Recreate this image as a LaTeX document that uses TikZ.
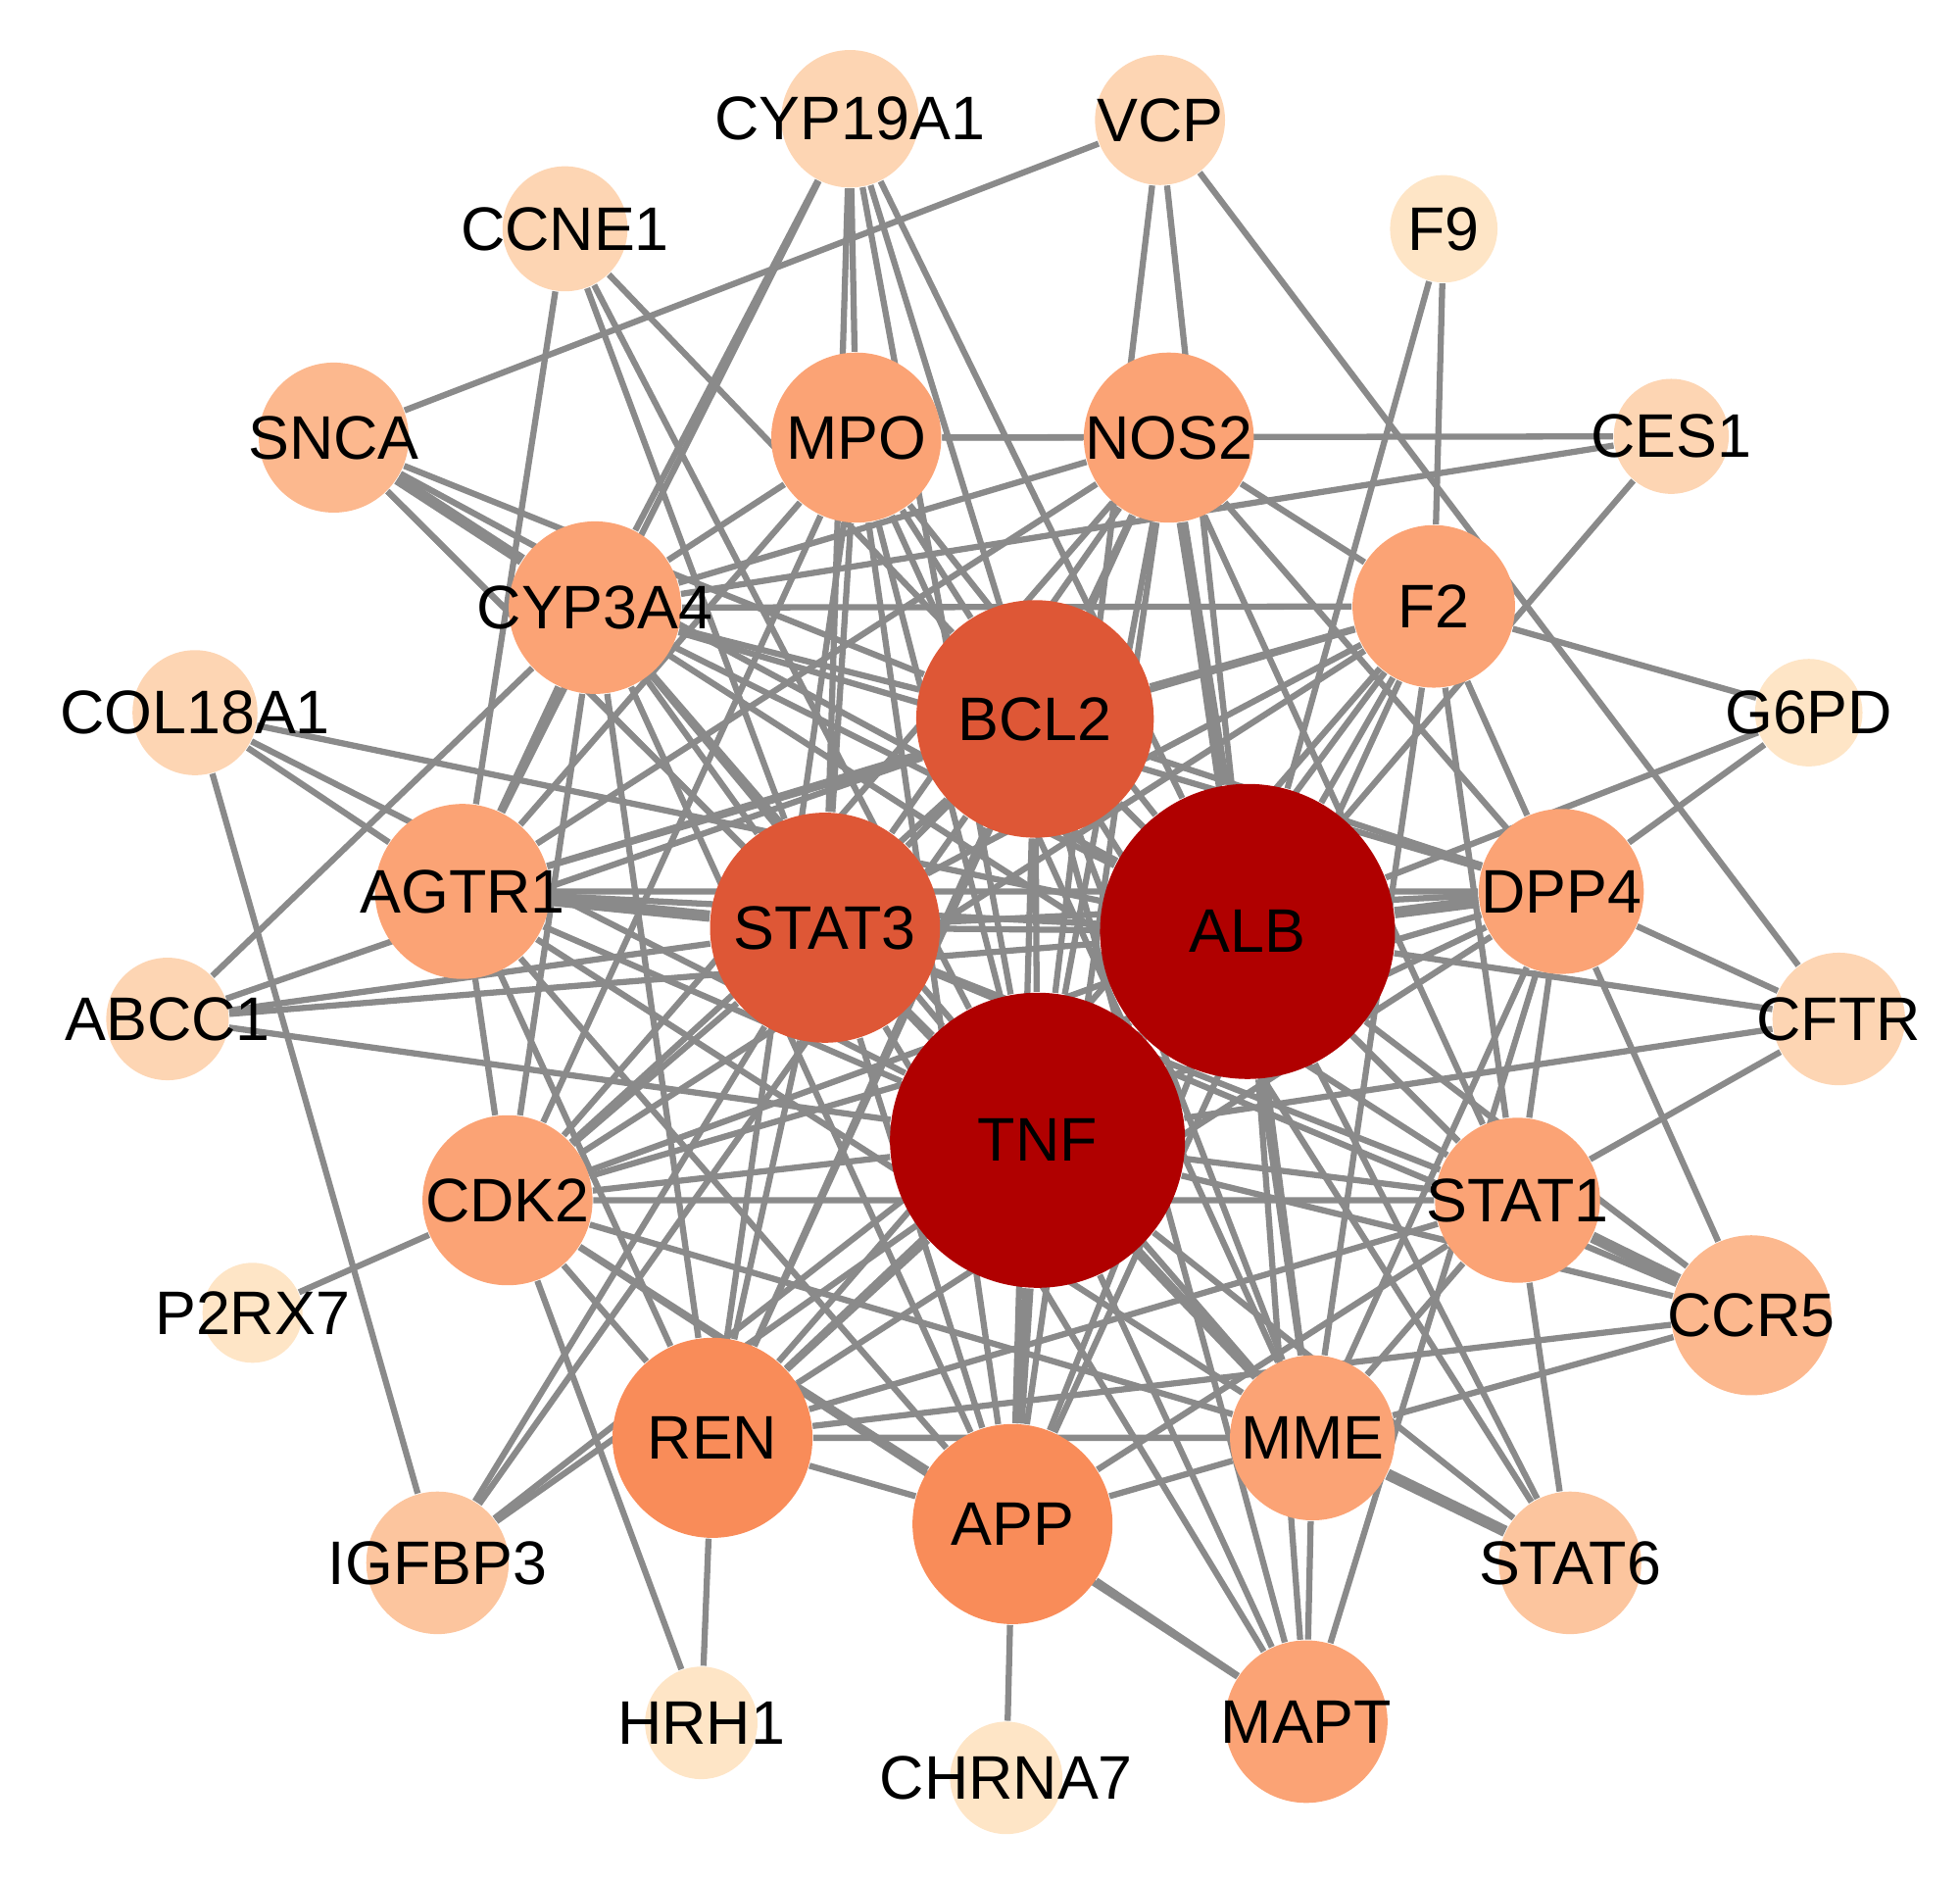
\documentclass[tikz,border=0pt]{standalone}
\usepackage{fontspec}
\setmainfont{Liberation Sans}
\usetikzlibrary{backgrounds}

\definecolor{hubred}{HTML}{B00000}
\definecolor{bigorange}{HTML}{DE5736}
\definecolor{midorange}{HTML}{F98C59}
\definecolor{peach}{HTML}{FBA375}
\definecolor{lightpeach}{HTML}{FCB88E}
\definecolor{paleorange}{HTML}{FCC59E}
\definecolor{cream}{HTML}{FDD5B3}
\definecolor{palecream}{HTML}{FEE5C6}
\definecolor{linkgray}{HTML}{8A8A8A}

\tikzset{
  gene/.style={circle, draw=none, inner sep=0pt, minimum size=#1, font=\fontsize{14}{16}\selectfont},
  link/.style={draw=linkgray, line width=1.4pt},
  biglink/.style={draw=linkgray, line width=2.6pt},
}

\begin{document}
\begin{tikzpicture}
    \useasboundingbox (0,0) rectangle (15.68,-15.04);

    % Draw the hubs
    \node[gene=2.36cm, fill=hubred] (TNF) at (8.30,-9.12) {\makebox[0pt]{TNF}};
    \node[gene=2.36cm, fill=hubred] (ALB) at (9.98,-7.45) {\makebox[0pt]{ALB}};
    \node[gene=1.90cm, fill=bigorange] (BCL2) at (8.28,-5.75) {\makebox[0pt]{BCL2}};
    \node[gene=1.84cm, fill=bigorange] (STAT3) at (6.60,-7.42) {\makebox[0pt]{STAT3}};
    \node[gene=1.60cm, fill=midorange] (REN) at (5.70,-11.50) {\makebox[0pt]{REN}};
    \node[gene=1.60cm, fill=midorange] (APP) at (8.10,-12.19) {\makebox[0pt]{APP}};

    % Draw the middle ring
    \node[gene=1.36cm, fill=peach] (MPO) at (6.85,-3.50) {\makebox[0pt]{MPO}};
    \node[gene=1.36cm, fill=peach] (NOS2) at (9.35,-3.50) {\makebox[0pt]{NOS2}};
    \node[gene=1.38cm, fill=peach] (CYP3A4) at (4.76,-4.86) {\makebox[0pt]{CYP3A4}};
    \node[gene=1.30cm, fill=peach] (F2) at (11.47,-4.85) {\makebox[0pt]{F2}};
    \node[gene=1.40cm, fill=peach] (AGTR1) at (3.70,-7.13) {\makebox[0pt]{AGTR1}};
    \node[gene=1.32cm, fill=peach] (DPP4) at (12.49,-7.13) {\makebox[0pt]{DPP4}};
    \node[gene=1.36cm, fill=peach] (CDK2) at (4.06,-9.60) {\makebox[0pt]{CDK2}};
    \node[gene=1.32cm, fill=peach] (STAT1) at (12.14,-9.60) {\makebox[0pt]{STAT1}};
    \node[gene=1.32cm, fill=peach] (MME) at (10.50,-11.50) {\makebox[0pt]{MME}};
    \node[gene=1.30cm, fill=peach] (MAPT) at (10.45,-13.77) {\makebox[0pt]{MAPT}};
    \node[gene=1.28cm, fill=lightpeach] (CCR5) at (14.01,-10.52) {\makebox[0pt]{CCR5}};
    \node[gene=1.20cm, fill=lightpeach] (SNCA) at (2.67,-3.50) {\makebox[0pt]{SNCA}};
    \node[gene=1.14cm, fill=paleorange] (IGFBP3) at (3.50,-12.50) {\makebox[0pt]{IGFBP3}};
    \node[gene=1.14cm, fill=paleorange] (STAT6) at (12.56,-12.50) {\makebox[0pt]{STAT6}};

    % Draw the outer ring
    \node[gene=1.10cm, fill=cream] (CYP19A1) at (6.80,-0.95) {\makebox[0pt]{CYP19A1}};
    \node[gene=1.04cm, fill=cream] (VCP) at (9.28,-0.96) {\makebox[0pt]{VCP}};
    \node[gene=1.00cm, fill=cream] (CCNE1) at (4.52,-1.83) {\makebox[0pt]{CCNE1}};
    \node[gene=0.92cm, fill=cream] (CES1) at (13.37,-3.49) {\makebox[0pt]{CES1}};
    \node[gene=1.00cm, fill=cream] (COL18A1) at (1.56,-5.70) {\makebox[0pt]{COL18A1}};
    \node[gene=0.98cm, fill=cream] (ABCC1) at (1.34,-8.15) {\makebox[0pt]{ABCC1}};
    \node[gene=1.06cm, fill=cream] (CFTR) at (14.71,-8.15) {\makebox[0pt]{CFTR}};
    \node[gene=0.86cm, fill=palecream] (F9) at (11.55,-1.83) {\makebox[0pt]{F9}};
    \node[gene=0.86cm, fill=palecream] (G6PD) at (14.47,-5.70) {\makebox[0pt]{G6PD}};
    \node[gene=0.80cm, fill=palecream] (P2RX7) at (2.02,-10.50) {\makebox[0pt]{P2RX7}};
    \node[gene=0.90cm, fill=palecream] (HRH1) at (5.61,-13.78) {\makebox[0pt]{HRH1}};
    \node[gene=0.90cm, fill=palecream] (CHRNA7) at (8.05,-14.22) {\makebox[0pt]{CHRNA7}};

    \begin{scope}[on background layer]
    % thick links
    \draw[biglink] (TNF) -- (ALB) (TNF) -- (APP) (ALB) -- (DPP4) (ALB) -- (NOS2)
        (STAT3) -- (AGTR1) (STAT1) -- (CCR5) (MME) -- (STAT6) (SNCA) -- (CYP3A4);
    % TNF
    \draw[link] (TNF) -- (BCL2) (TNF) -- (STAT3) (TNF) -- (MPO) (TNF) -- (NOS2)
        (TNF) -- (CYP3A4) (TNF) -- (F2) (TNF) -- (AGTR1) (TNF) -- (DPP4)
        (TNF) -- (CDK2) (TNF) -- (STAT1) (TNF) -- (REN) (TNF) -- (MME)
        (TNF) -- (MAPT) (TNF) -- (CCR5) (TNF) -- (STAT6) (TNF) -- (IGFBP3)
        (TNF) -- (CFTR) (TNF) -- (VCP) (TNF) -- (CCNE1) (TNF) -- (SNCA)
        (TNF) -- (CYP19A1) (TNF) -- (COL18A1) (TNF) -- (ABCC1);
    % ALB
    \draw[link] (ALB) -- (BCL2) (ALB) -- (STAT3) (ALB) -- (MPO) (ALB) -- (CYP3A4)
        (ALB) -- (F2) (ALB) -- (AGTR1) (ALB) -- (CDK2) (ALB) -- (STAT1)
        (ALB) -- (REN) (ALB) -- (APP) (ALB) -- (MME) (ALB) -- (MAPT)
        (ALB) -- (CCR5) (ALB) -- (STAT6) (ALB) -- (IGFBP3) (ALB) -- (CFTR)
        (ALB) -- (VCP) (ALB) -- (F9) (ALB) -- (CES1) (ALB) -- (G6PD)
        (ALB) -- (COL18A1) (ALB) -- (ABCC1) (ALB) -- (SNCA) (ALB) -- (CYP19A1);
    % BCL2
    \draw[link] (BCL2) -- (STAT3) (BCL2) -- (MPO) (BCL2) -- (NOS2) (BCL2) -- (CYP3A4)
        (BCL2) -- (F2) (BCL2) -- (AGTR1) (BCL2) -- (DPP4) (BCL2) -- (CDK2)
        (BCL2) -- (STAT1) (BCL2) -- (REN) (BCL2) -- (APP) (BCL2) -- (MME)
        (BCL2) -- (MAPT) (BCL2) -- (CCNE1) (BCL2) -- (CYP19A1) (BCL2) -- (ABCC1)
        (BCL2) -- (IGFBP3) (BCL2) -- (STAT6) (BCL2) -- (SNCA);
    % STAT3
    \draw[link] (STAT3) -- (MPO) (STAT3) -- (NOS2) (STAT3) -- (CYP3A4) (STAT3) -- (F2)
        (STAT3) -- (DPP4) (STAT3) -- (CDK2) (STAT3) -- (STAT1) (STAT3) -- (REN)
        (STAT3) -- (APP) (STAT3) -- (MME) (STAT3) -- (MAPT) (STAT3) -- (CCR5)
        (STAT3) -- (CCNE1) (STAT3) -- (SNCA) (STAT3) -- (CYP19A1) (STAT3) -- (ABCC1)
        (STAT3) -- (IGFBP3);
    % middle ring
    \draw[link] (AGTR1) -- (CYP3A4) (AGTR1) -- (DPP4) (AGTR1) -- (REN) (AGTR1) -- (MME)
        (AGTR1) -- (CDK2) (AGTR1) -- (NOS2) (AGTR1) -- (F2) (AGTR1) -- (APP)
        (AGTR1) -- (MPO) (AGTR1) -- (CCNE1) (AGTR1) -- (COL18A1) (AGTR1) -- (CYP19A1);
    \draw[link] (CDK2) -- (CYP3A4) (CDK2) -- (MPO) (CDK2) -- (NOS2) (CDK2) -- (F2)
        (CDK2) -- (STAT1) (CDK2) -- (REN) (CDK2) -- (APP) (CDK2) -- (MME)
        (CDK2) -- (DPP4) (CDK2) -- (P2RX7) (CDK2) -- (HRH1) (CDK2) -- (MAPT);
    \draw[link] (CYP3A4) -- (MPO) (CYP3A4) -- (NOS2) (CYP3A4) -- (F2) (CYP3A4) -- (DPP4)
        (CYP3A4) -- (REN) (CYP3A4) -- (APP) (CYP3A4) -- (MME) (CYP3A4) -- (STAT1)
        (CYP3A4) -- (CES1) (CYP3A4) -- (CYP19A1) (CYP3A4) -- (ABCC1);
    \draw[link] (REN) -- (APP) (REN) -- (MME) (REN) -- (STAT1) (REN) -- (DPP4)
        (REN) -- (F2) (REN) -- (NOS2) (REN) -- (MPO) (REN) -- (CCR5) (REN) -- (HRH1);
    \draw[link] (APP) -- (MME) (APP) -- (MAPT) (APP) -- (STAT1) (APP) -- (NOS2)
        (APP) -- (MPO) (APP) -- (F2) (APP) -- (CHRNA7);
    \draw[link] (MME) -- (STAT1) (MME) -- (NOS2) (MME) -- (MPO) (MME) -- (F2)
        (MME) -- (CCR5) (MME) -- (MAPT) (MME) -- (DPP4);
    \draw[link] (NOS2) -- (MPO) (NOS2) -- (F2) (NOS2) -- (DPP4) (NOS2) -- (STAT1);
    \draw[link] (MPO) -- (CES1) (MPO) -- (CYP19A1);
    \draw[link] (F2) -- (DPP4) (F2) -- (STAT1) (F2) -- (G6PD) (F2) -- (F9);
    \draw[link] (DPP4) -- (STAT1) (DPP4) -- (CCR5) (DPP4) -- (MAPT) (DPP4) -- (G6PD)
        (DPP4) -- (CFTR);
    \draw[link] (STAT1) -- (STAT6) (STAT1) -- (CFTR);
    % outer ring
    \draw[link] (VCP) -- (SNCA) (VCP) -- (CFTR) (COL18A1) -- (IGFBP3);
    \end{scope}
\end{tikzpicture}
\end{document}
